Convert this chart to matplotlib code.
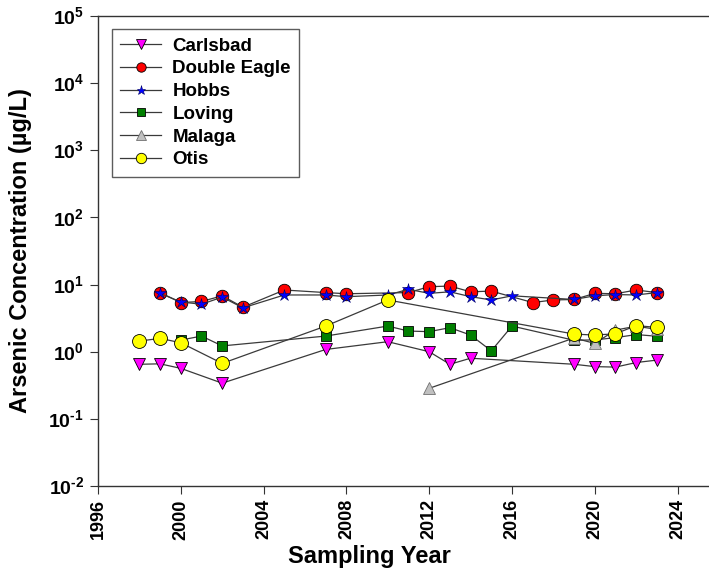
import matplotlib
matplotlib.use('Agg')
import matplotlib.pyplot as plt

plt.rcParams['font.family'] = ['Liberation Sans', 'DejaVu Sans']
plt.rcParams['font.weight'] = 'bold'
plt.rcParams['mathtext.fontset'] = 'custom'
plt.rcParams['mathtext.rm'] = 'Liberation Sans:bold'
plt.rcParams['mathtext.bf'] = 'Liberation Sans:bold'

# Arsenic data
carlsbad_years = [1998, 1999, 2000, 2002, 2007, 2010, 2012, 2013, 2014, 2019, 2020, 2021, 2022, 2023]
carlsbad_vals = [0.65, 0.66, 0.565, 0.34, 1.08, 1.41, 1.0, 0.65, 0.80, 0.65, 0.60, 0.59, 0.69, 0.75]

deagle_years = [1999, 2000, 2001, 2002, 2003, 2005, 2007, 2008, 2011, 2012, 2013, 2014, 2015,
                2017, 2018, 2019, 2020, 2021, 2022, 2023]
deagle_vals = [7.6, 5.4, 5.6, 6.8, 4.6, 8.3, 7.6, 7.3, 7.6, 9.3, 9.5, 7.8, 8.0,
               5.4, 5.9, 6.0, 7.4, 7.3, 8.3, 7.6]

hobbs_years = [1999, 2000, 2001, 2002, 2003, 2005, 2007, 2008, 2010, 2011, 2012, 2013, 2014, 2015,
               2016, 2019, 2020, 2021, 2022, 2023]
hobbs_vals = [7.4, 5.5, 5.1, 6.5, 4.5, 7.0, 7.0, 6.6, 7.0, 8.5, 7.4, 7.8, 6.6, 5.9,
              6.8, 6.0, 6.8, 7.1, 7.0, 7.6]

loving_years = [2000, 2001, 2002, 2007, 2010, 2011, 2012, 2013, 2014, 2015, 2016, 2019, 2020, 2021, 2022, 2023]
loving_vals = [1.49, 1.71, 1.22, 1.71, 2.41, 2.03, 1.99, 2.28, 1.77, 1.03, 2.41, 1.48, 1.5, 1.62, 1.8, 1.7]

malaga_years = [2012, 2019, 2020, 2021, 2022, 2023]
malaga_vals = [0.285, 1.6, 1.33, 2.1, 2.4, 2.15]

otis_years = [1998, 1999, 2000, 2002, 2007, 2010, 2019, 2020, 2021, 2022, 2023]
otis_vals = [1.44, 1.58, 1.36, 0.67, 2.41, 5.9, 1.83, 1.77, 1.85, 2.45, 2.3]

x_ticks = [1996, 2000, 2004, 2008, 2012, 2016, 2020, 2024]
y_ticks = [1e-2, 1e-1, 1e0, 1e1, 1e2, 1e3, 1e4, 1e5]
y_tick_labels = [r'$10^{\text{-}2}$', r'$10^{\text{-}1}$', r'$10^{0}$', r'$10^{1}$',
                 r'$10^{2}$', r'$10^{3}$', r'$10^{4}$', r'$10^{5}$']

fig = plt.figure(figsize=(7.09, 5.79), dpi=100)
ax = fig.add_axes([98 / 709, 93 / 579, 611 / 709, 470 / 579])

line_kw = dict(color='#3a3a3a', linewidth=0.9, markeredgecolor='black', markeredgewidth=0.6)
ax.plot(carlsbad_years, carlsbad_vals, marker='v', markersize=9, markerfacecolor='#ff00ff',
        label='Carlsbad', **line_kw)
ax.plot(deagle_years, deagle_vals, marker='o', markersize=9, markerfacecolor='#ff0000',
        label='Double Eagle', **line_kw)
ax.plot(hobbs_years, hobbs_vals, marker='*', markersize=9, markerfacecolor='#0000ff',
        label='Hobbs', color='#3a3a3a', linewidth=0.9, markeredgecolor='#000060', markeredgewidth=0.4)
ax.plot(loving_years, loving_vals, marker='s', markersize=7.5, markerfacecolor='#007f00',
        label='Loving', **line_kw)
ax.plot(malaga_years, malaga_vals, marker='^', markersize=9, markerfacecolor='#c0c0c0',
        label='Malaga', color='#3a3a3a', linewidth=0.9, markeredgecolor='#707070', markeredgewidth=0.6)
ax.plot(otis_years, otis_vals, marker='o', markersize=10, markerfacecolor='#ffff00',
        label='Otis', **line_kw)

ax.set_yscale('log')
ax.set_ylim(1e-2, 1e5)
ax.set_xlim(1996, 1996 + 611 / 20.7)
ax.set_yticks(y_ticks)
ax.set_yticklabels(y_tick_labels)
ax.minorticks_off()
ax.set_xticks(x_ticks)
ax.set_xticklabels([str(x) for x in x_ticks], rotation=90)
ax.tick_params(direction='out', length=6, width=0.8, color='#333333', labelsize=13)
ax.tick_params(axis='y', labelsize=14, pad=4)

for side in ['left', 'bottom', 'top']:
    ax.spines[side].set_color('#333333')
    ax.spines[side].set_linewidth(1.0)
ax.spines['right'].set_visible(False)

ax.set_xlabel('Sampling Year', fontsize=17, fontweight='bold')
ax.xaxis.set_label_coords(0.445, -0.125)
ax.set_ylabel('Arsenic Concentration (\u00b5g/L)', fontsize=17, fontweight='bold')
ax.yaxis.set_label_coords(-0.108, 0.5)

leg = ax.legend(loc='upper left', bbox_to_anchor=(13.5 / 611, 1 - 13 / 470), fontsize=13.5,
                frameon=True, fancybox=False, handlelength=2.2, handletextpad=0.6,
                labelspacing=0.3, borderpad=0.45, borderaxespad=0, markerscale=0.75)
leg.get_frame().set_edgecolor('#333333')
leg.get_frame().set_linewidth(1.0)

fig.savefig('out.png', dpi=100)
